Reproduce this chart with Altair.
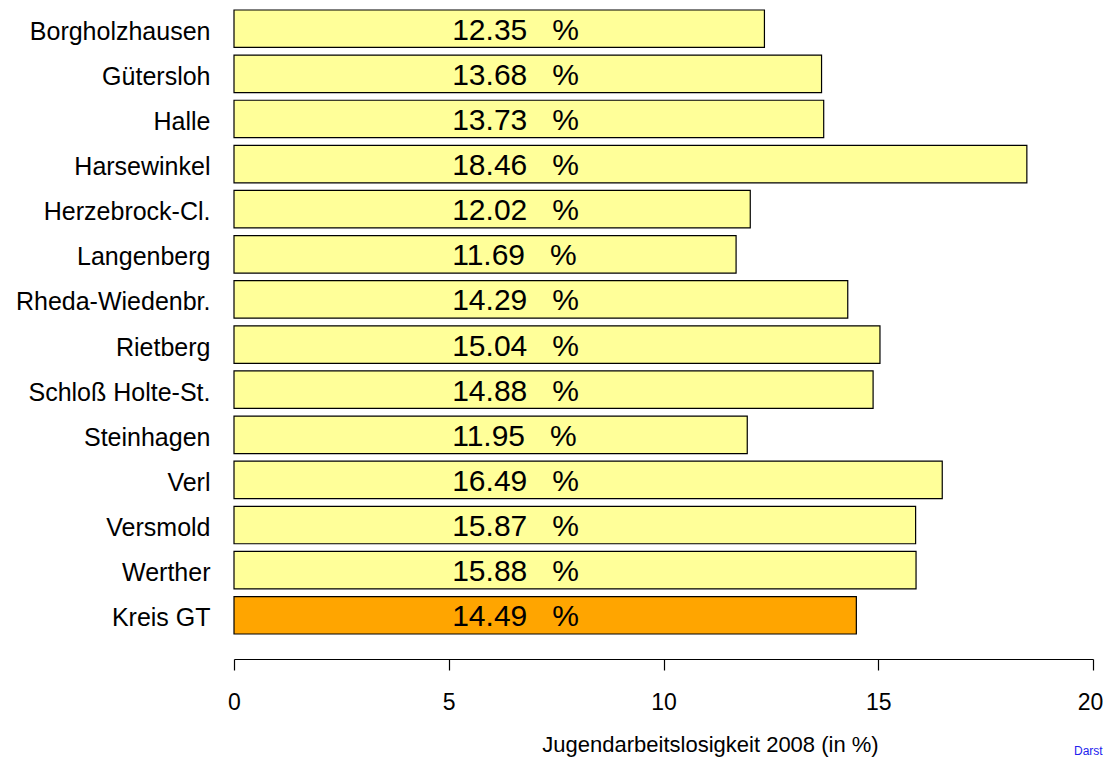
import altair as alt
import pandas as pd

orte = ["Borgholzhausen", "Gütersloh", "Halle", "Harsewinkel", "Herzebrock-Cl.",
        "Langenberg", "Rheda-Wiedenbr.", "Rietberg", "Schloß Holte-St.", "Steinhagen",
        "Verl", "Versmold", "Werther", "Kreis GT"]
werte = [12.35, 13.68, 13.73, 18.46, 12.02, 11.69, 14.29, 15.04, 14.88, 11.95,
         16.49, 15.87, 15.88, 14.49]
gruppe = ["Gemeinde"] * 13 + ["Kreis"]
x_ticks = [0, 5, 10, 15, 20]

df = pd.DataFrame({"ort": orte, "wert": werte, "gruppe": gruppe})
df["label"] = df["wert"].map(lambda v: f"{v:.2f}\u00a0\u00a0\u00a0%")

FONT = "Liberation Sans"

y_enc = alt.Y("ort:N", sort=orte,
              scale=alt.Scale(paddingInner=0.17, paddingOuter=0.044),
              axis=alt.Axis(title=None, domain=False, ticks=False, labelPadding=24,
                            labelFontSize=25, labelFont=FONT, labelColor="black",
                            labelLimit=400, labelOffset=3))

x_scale = alt.Scale(domain=[0, 20], nice=False, zero=True)

bars = alt.Chart(df).mark_bar(stroke="black", strokeWidth=1.2).encode(
    y=y_enc,
    x=alt.X("wert:Q", scale=x_scale,
            axis=alt.Axis(values=x_ticks, grid=False, offset=23, tickSize=11,
                          labelPadding=21, labelFontSize=23, labelFont=FONT,
                          labelColor="black", domainColor="black", tickColor="black",
                          domainWidth=1.2, tickWidth=1.2, labelFlush=False,
                          labelOffset={"expr": "datum.value == 20 ? -3 : 0"},
                          title="Jugendarbeitslosigkeit  2008 (in %)",
                          titleFont=FONT, titleFontSize=22, titleFontWeight="normal",
                          titleColor="black", titleX=476, titleY=92,
                          titleBaseline="alphabetic", titleAlign="center",
                          titleAnchor="start")),
    color=alt.Color("gruppe:N",
                    scale=alt.Scale(domain=["Gemeinde", "Kreis"],
                                    range=["#FFFF99", "#FFA500"]),
                    legend=None),
)

labels = alt.Chart(df).mark_text(fontSize=30, font=FONT, color="black",
                                 align="left", baseline="middle", dy=2).encode(
    y=alt.Y("ort:N", sort=orte),
    x=alt.datum(5.08),
    text="label:N",
)

source = alt.Chart(pd.DataFrame({"t": ["Darst"]})).mark_text(
    fontSize=12, font=FONT, color="#2222EE", align="left", baseline="alphabetic"
).encode(
    x=alt.value(840), y=alt.value(747), text="t:N"
)

chart = alt.layer(bars, labels, source).properties(
    width=859, height=628,
    background="white",
    autosize=alt.AutoSizeParams(type="none"),
    padding={"left": 226, "top": 0, "right": 10, "bottom": 121},
).configure_view(strokeWidth=0)

chart.save("out.html", embed_options={"renderer": "svg", "actions": False})
